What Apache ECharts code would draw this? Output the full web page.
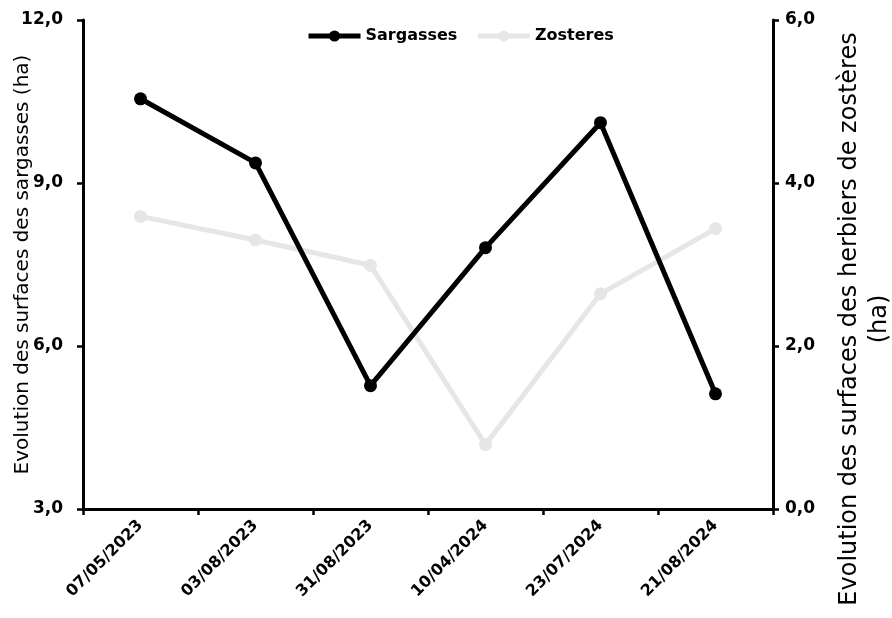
<!DOCTYPE html>
<html><head><meta charset="utf-8">
<script src="https://cdn.jsdelivr.net/npm/echarts@6/dist/echarts.min.js"></script>
<style>html,body{margin:0;padding:0;background:#fff}#c{width:892px;height:618px}</style>
</head><body><div id="c"></div>
<script>
var categories = ['07/05/2023','03/08/2023','31/08/2023','10/04/2024','23/07/2024','21/08/2024'];
var sargasses = [10.55, 9.37, 5.27, 7.81, 10.11, 5.12];
var zosteres = [3.59, 3.30, 2.99, 0.79, 2.64, 3.44];
var leftTitle = 'Evolution des surfaces des sargasses (ha)';
var rightTitle = 'Evolution des surfaces des herbiers de zostères\n(ha)';

var FONT = '"DejaVu Sans", sans-serif';
var chart = echarts.init(document.getElementById('c'));
function fmt(v){ return v.toFixed(1).replace('.', ','); }
chart.setOption({
  animation: false,
  backgroundColor: '#fff',
  textStyle: { fontFamily: FONT },
  legend: {
    top: 23, left: 301, itemWidth: 52, itemHeight: 14, itemGap: 18,
    lineStyle: { width: 5 },
    textStyle: { fontFamily: FONT, fontWeight: 'bold', fontSize: 16, color: '#000' },
    data: ['Sargasses', 'Zosteres']
  },
  grid: { left: 83, right: 119, top: 20, bottom: 109, containLabel: false, outerBoundsMode: 'none' },
  xAxis: {
    type: 'category', data: categories, boundaryGap: true,
    axisLine: { lineStyle: { color: '#000', width: 3 } },
    axisTick: { show: true, length: 6, lineStyle: { color: '#000', width: 2.5 } },
    axisLabel: { rotate: 45, color: '#000', fontWeight: 'bold', fontSize: 16, fontFamily: FONT, margin: 14, interval: 0 },
    splitLine: { show: false }
  },
  yAxis: [
    {
      type: 'value', min: 3, max: 12, interval: 3, position: 'left',
      name: leftTitle, nameLocation: 'middle', nameRotate: 90, nameGap: 50, nameMoveOverlap: false,
      nameTextStyle: { color: '#000', fontSize: 20, fontFamily: FONT },
      axisLine: { show: true, lineStyle: { color: '#000', width: 3 } },
      axisTick: { show: true, length: 6, lineStyle: { color: '#000', width: 2.5 } },
      axisLabel: { color: '#000', fontWeight: 'bold', fontSize: 17, fontFamily: FONT, margin: 20, formatter: fmt },
      splitLine: { show: false }
    },
    {
      type: 'value', min: 0, max: 6, interval: 2, position: 'right',
      axisLine: { show: true, lineStyle: { color: '#000', width: 3 } },
      axisTick: { show: true, length: 6, lineStyle: { color: '#000', width: 2.5 } },
      axisLabel: { color: '#000', fontWeight: 'bold', fontSize: 17, fontFamily: FONT, margin: 12, formatter: fmt },
      splitLine: { show: false }
    }
  ],
  graphic: [{
    type: 'text', x: 865, y: 319, rotation: Math.PI / 2,
    style: {
      text: rightTitle, fill: '#000', font: '24px "DejaVu Sans", sans-serif',
      align: 'center', verticalAlign: 'middle', lineHeight: 30
    }
  }],
  series: [
    {
      name: 'Zosteres', type: 'line', yAxisIndex: 1, data: zosteres,
      symbol: 'circle', symbolSize: 13,
      lineStyle: { color: '#e6e6e6', width: 5 },
      itemStyle: { color: '#e6e6e6' }
    },
    {
      name: 'Sargasses', type: 'line', yAxisIndex: 0, data: sargasses,
      symbol: 'circle', symbolSize: 13,
      lineStyle: { color: '#000', width: 5 },
      itemStyle: { color: '#000' }
    }
  ]
});
</script></body></html>
